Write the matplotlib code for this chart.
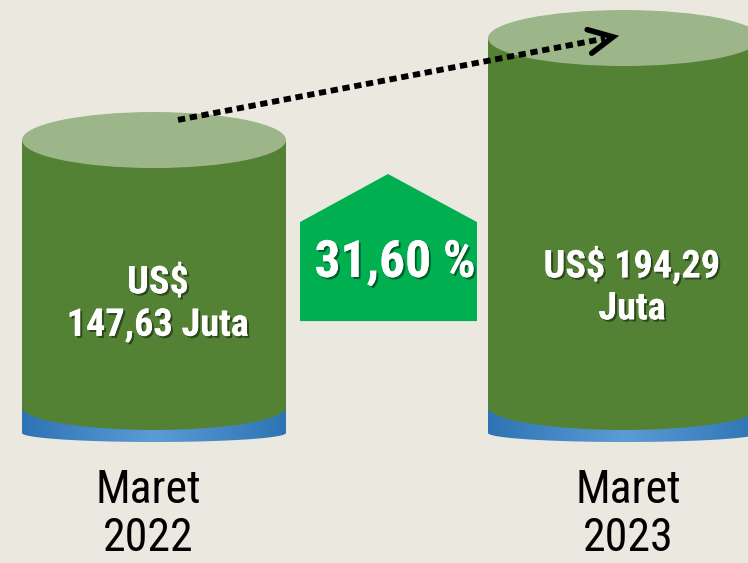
import numpy as np
import matplotlib.pyplot as plt
import matplotlib.patheffects as pe
from matplotlib.patches import Ellipse, Rectangle, Polygon
from matplotlib.colors import LinearSegmentedColormap

# data
periods = ['Maret\n2022', 'Maret\n2023']
values = [147.63, 194.29]
value_labels = ['US$\n147,63 Juta', 'US$ 194,29\nJuta']
growth_label = '31,60 %'

# layout (x in pixels, y in value units)
centers = [154, 624]
half_w = [132, 136]
label_dx = [4, 8]
period_dx = [-6, 4]
BASE = 25.5      # cylinder bottom (value units)
K = 2.186        # pixels per value unit

FONT = ['Roboto Condensed', 'PT Sans Narrow', 'DejaVu Sans']
BG = '#EBE8DF'
GREEN = '#548235'
TOP = '#9CB68A'

fig = plt.figure(figsize=(7.48, 5.63), dpi=100)
fig.patch.set_facecolor(BG)
ax = fig.add_axes([0, 0, 1, 1])
ax.set_facecolor(BG)

blue_cmap = LinearSegmentedColormap.from_list('b', ['#2E73B4', '#5C9CD6', '#2E73B4'])
shadow = [pe.withSimplePatchShadow(offset=(1.5, -1.5), shadow_rgbFace='black', alpha=0.45), pe.Normal()]

for cx, a, v, per, pdx in zip(centers, half_w, values, periods, period_dx):
    # blue base band with gradient
    band_h = 26 / K
    t = np.linspace(0, np.pi, 60)
    lower_x = cx + a * np.cos(t)
    lower_y = BASE - band_h - (9 / K) * np.sin(t)
    pts = [(cx - a, BASE), (cx + a, BASE)] + list(zip(lower_x, lower_y))
    poly = Polygon(pts, closed=True, facecolor='none', edgecolor='none', zorder=1)
    ax.add_patch(poly)
    grad = np.linspace(0, 1, 256).reshape(1, -1)
    im = ax.imshow(grad, extent=[cx - a, cx + a, BASE - band_h - 10 / K, BASE + 1],
                   aspect='auto', cmap=blue_cmap, zorder=1)
    im.set_clip_path(poly)

    # body and top
    ax.add_patch(Ellipse((cx, BASE), 2 * a, 2 * 23 / K, facecolor=GREEN, edgecolor='none', zorder=2))
    ax.add_patch(Rectangle((cx - a, BASE), 2 * a, v - BASE, facecolor=GREEN, edgecolor='none', zorder=2))
    ax.add_patch(Ellipse((cx, v), 2 * a, 2 * 28 / K, facecolor=TOP, edgecolor='none', zorder=3))

    # period label under cylinder
    ax.text(cx + pdx, -23.4, per, ha='center', va='center', fontsize=33,
            family=FONT, color='black', linespacing=1.12, zorder=5)

# value labels inside cylinders
ax.text(centers[0] + label_dx[0], 72.6, value_labels[0], ha='center', va='center', fontsize=27.5,
        family=FONT, weight='bold', color='white', linespacing=1.19, path_effects=shadow, zorder=5)
ax.text(centers[1] + label_dx[1], 80.4, value_labels[1], ha='center', va='center', fontsize=27.5,
        family=FONT, weight='bold', color='white', linespacing=1.17, path_effects=shadow, zorder=5)

# growth pentagon
house = [(300, 64.8), (477, 64.8), (477, 110.1), (388, 132.1), (300, 110.1)]
ax.add_patch(Polygon(house, closed=True, facecolor='#00B050', edgecolor='none', zorder=4))
ax.text(395, 91.4, growth_label, ha='center', va='center', fontsize=37, family=FONT,
        weight='bold', color='white', path_effects=shadow, zorder=5)

# dotted arrow from first top to second top
x0, y0 = centers[0] + 24, values[0] + 9.2
x1, y1 = centers[1] - 11, values[1] + 0.5
ax.plot([x0, x1 - 8], [y0, y1 - 8 * (y1 - y0) / (x1 - x0)], color='black', lw=4.2,
        linestyle=(0, (1.25, 0.8)), dash_capstyle='butt', zorder=6)
# arrow head (open chevron) computed in pixel space
dx, dy = (x1 - x0), (y1 - y0) * K
n = np.hypot(dx, dy)
ux, uy = dx / n, dy / n
L, W = 24, 12
p1 = (x1 - L * ux - W * uy, (-L * uy + W * ux) / K + y1)
p2 = (x1 - L * ux + W * uy, (-L * uy - W * ux) / K + y1)
ax.plot([p1[0], x1, p2[0]], [p1[1], y1, p2[1]], color='black', lw=4.0,
        solid_capstyle='round', solid_joinstyle='miter', zorder=6)

ax.set_xlim(0, 748)
ax.set_ylim(BASE - 156 / K, BASE + 407 / K)
ax.axis('off')

fig.savefig('out.png', dpi=100, facecolor=BG)
